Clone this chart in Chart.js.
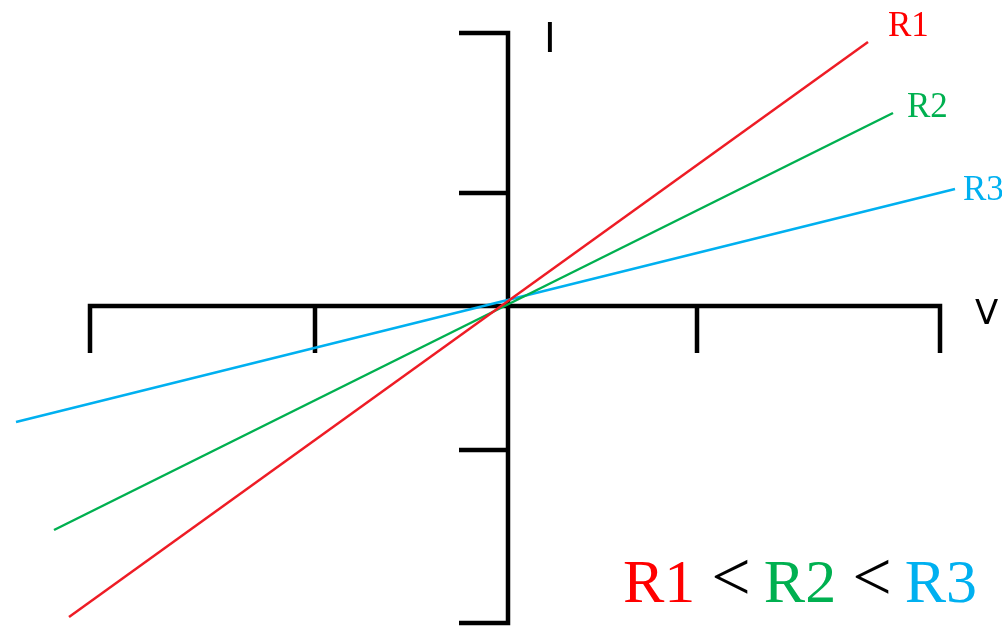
<!DOCTYPE html>
<html>
<head>
<meta charset="utf-8">
<script src="https://cdn.jsdelivr.net/npm/chart.js@4/dist/chart.umd.min.js"></script>
<style>
  html, body { margin: 0; padding: 0; background: #fff; overflow: hidden; }
  #chart { display: block; }
</style>
</head>
<body>
<canvas id="chart" width="1002" height="626"></canvas>
<script>
// series names and colours
const seriesNames = ["R1", "R2", "R3"];
const lineColors = ["#ee1c25", "#00b050", "#00b0f0"];
const textColors = ["#ff0000", "#00b050", "#00b0f0"];

// V values at both ends of each line, and the matching I values
const vValues = [
  [-4.39, 3.60],
  [-4.54, 3.85],
  [-4.92, 4.47],
];
const iValues = [
  [-3.11, 2.64],
  [-2.24, 1.93],
  [-1.16, 1.17],
];

// tick marks on the axes (the outer ones close the frame)
const vTicks = [-4.18, -1.93, 1.89, 4.32];
const iTicks = [2.73, 1.13, -1.44, -3.17];
const axisLabels = ["V", "I"];

const ctx = document.getElementById("chart").getContext("2d");

// axes drawn through the middle of the plot
const crossAxes = {
  id: "crossAxes",
  beforeDatasetsDraw(chart) {
    const { ctx } = chart;
    const x = chart.scales.x;
    const y = chart.scales.y;
    const x0 = x.getPixelForValue(0);
    const y0 = y.getPixelForValue(0);
    const tickLen = 47;
    ctx.save();
    ctx.strokeStyle = "#000";
    ctx.lineWidth = 4.5;
    ctx.lineCap = "butt";
    ctx.lineJoin = "miter";

    // V axis
    const vMin = Math.min(...vTicks), vMax = Math.max(...vTicks);
    ctx.beginPath();
    ctx.moveTo(x.getPixelForValue(vMin), y0 + tickLen);
    ctx.lineTo(x.getPixelForValue(vMin), y0);
    ctx.lineTo(x.getPixelForValue(vMax), y0);
    ctx.lineTo(x.getPixelForValue(vMax), y0 + tickLen);
    vTicks.filter(v => v !== vMin && v !== vMax).forEach(v => {
      ctx.moveTo(x.getPixelForValue(v), y0);
      ctx.lineTo(x.getPixelForValue(v), y0 + tickLen);
    });
    ctx.stroke();

    // I axis
    const iMin = Math.min(...iTicks), iMax = Math.max(...iTicks);
    ctx.beginPath();
    ctx.moveTo(x0 - tickLen - 2, y.getPixelForValue(iMax));
    ctx.lineTo(x0, y.getPixelForValue(iMax));
    ctx.lineTo(x0, y.getPixelForValue(iMin));
    ctx.lineTo(x0 - tickLen - 2, y.getPixelForValue(iMin));
    iTicks.filter(v => v !== iMin && v !== iMax).forEach(v => {
      ctx.moveTo(x0, y.getPixelForValue(v));
      ctx.lineTo(x0 - tickLen - 2, y.getPixelForValue(v));
    });
    ctx.stroke();

    // axis names
    ctx.fillStyle = "#000";
    ctx.textBaseline = "alphabetic";
    ctx.font = "34px 'DejaVu Sans'";
    ctx.fillText(axisLabels[0], x.getPixelForValue(vMax) + 35, y0 + 18);
    ctx.font = "40px 'DejaVu Sans'";
    ctx.fillText(axisLabels[1], x0 + 36, y.getPixelForValue(iMax) + 19);
    ctx.restore();
  },
};

// series names at line ends, plus the ordering note
const seriesLabels = {
  id: "seriesLabels",
  afterDatasetsDraw(chart) {
    const { ctx } = chart;
    const offsets = [[20, -6], [14, 4], [8, 11]];
    ctx.save();
    ctx.textBaseline = "alphabetic";
    ctx.font = "35px 'Liberation Serif'";
    chart.data.datasets.forEach((ds, i) => {
      const pt = chart.getDatasetMeta(i).data[1];
      ctx.fillStyle = textColors[i];
      ctx.fillText(seriesNames[i], pt.x + offsets[i][0], pt.y + offsets[i][1]);
    });

    const nameFont = "62px 'Liberation Serif'";
    const sepFont = "70px 'Liberation Serif'";
    let cx = 623;
    const base = 602;
    seriesNames.forEach((name, i) => {
      ctx.font = nameFont;
      ctx.fillStyle = textColors[i];
      ctx.fillText(name, cx, base);
      cx += ctx.measureText(name).width + 16;
      if (i < seriesNames.length - 1) {
        ctx.font = sepFont;
        ctx.fillStyle = "#000";
        ctx.fillText("<", cx, base - 2);
        cx += ctx.measureText("<").width + 13;
      }
    });
    ctx.restore();
  },
};

const datasets = seriesNames.map((name, i) => ({
  label: name,
  data: vValues[i].map((v, j) => ({ x: v, y: iValues[i][j] })),
  borderColor: lineColors[i],
  borderWidth: 2.5,
  pointRadius: 0,
  showLine: true,
  fill: false,
}));

new Chart(ctx, {
  type: "scatter",
  data: { datasets },
  options: {
    responsive: false,
    animation: false,
    layout: { padding: 0 },
    plugins: { legend: { display: false }, tooltip: { enabled: false } },
    scales: {
      x: { display: false, min: -5.08, max: 4.94 },
      y: { display: false, min: -3.20, max: 3.06 },
    },
  },
  plugins: [crossAxes, seriesLabels],
});
</script>
</body>
</html>
